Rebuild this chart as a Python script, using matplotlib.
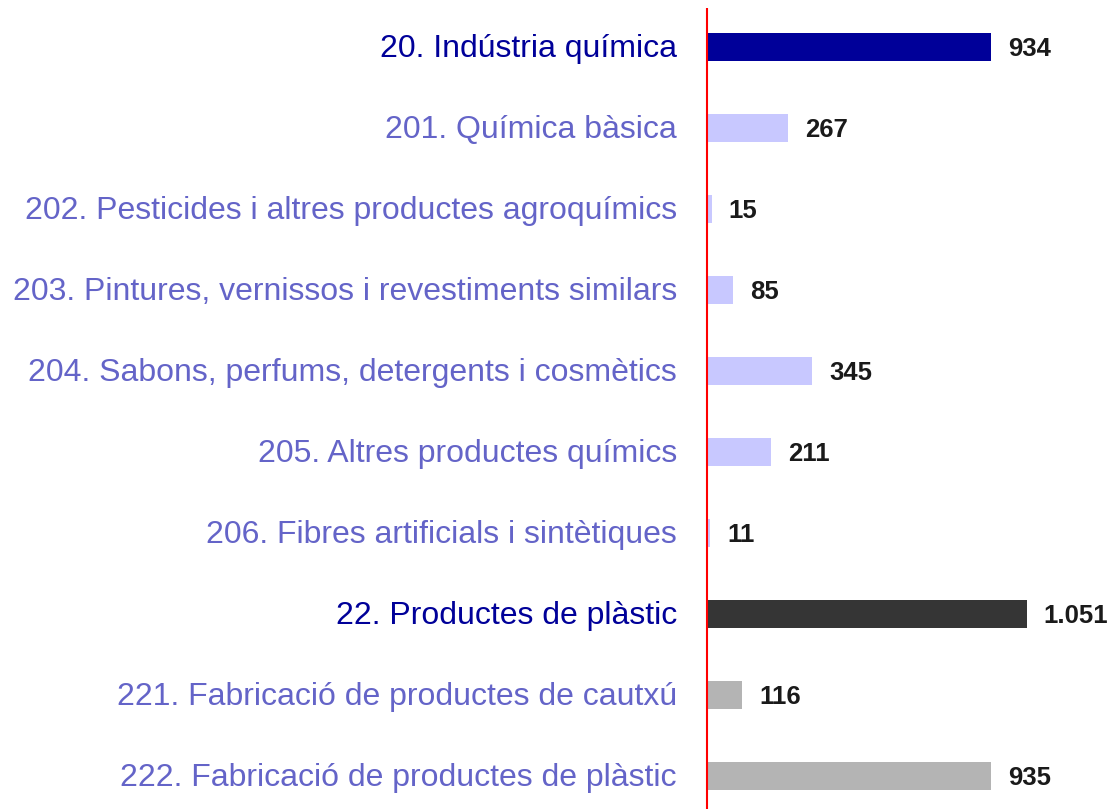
import matplotlib.pyplot as plt

# data
labels = ['20. Indústria química', '201. Química bàsica',
          '202. Pesticides i altres productes agroquímics',
          '203. Pintures, vernissos i revestiments similars',
          '204. Sabons, perfums, detergents i cosmètics',
          '205. Altres productes químics',
          '206. Fibres artificials i sintètiques',
          '22. Productes de plàstic',
          '221. Fabricació de productes de cautxú',
          '222. Fabricació de productes de plàstic']
values = [934, 267, 15, 85, 345, 211, 11, 1051, 116, 935]
value_text = ['934', '267', '15', '85', '345', '211', '11', '1.051', '116', '935']
bar_colors = ['#000099', '#c8c8ff', '#c8c8ff', '#c8c8ff', '#c8c8ff', '#c8c8ff',
              '#c8c8ff', '#353535', '#b4b4b4', '#b4b4b4']
label_colors = ['#000099', '#6464c8', '#6464c8', '#6464c8', '#6464c8', '#6464c8',
                '#6464c8', '#000099', '#6464c8', '#6464c8']

plt.rcParams['font.family'] = ['Liberation Sans', 'DejaVu Sans']

W, H = 1112, 809
scale = 0.304  # px per unit
fig = plt.figure(figsize=(W / 100, H / 100), dpi=100)
ax = fig.add_axes([697 / W, 0, 415 / W, 801 / H])

pos = list(range(len(values)))
ax.barh(pos, values, height=0.35, color=bar_colors, zorder=2)
ax.set_ylim(9.41, -0.48)
ax.set_xlim(-10 / scale, 405 / scale)
ax.axvline(0, color='#ff0000', lw=1.5, zorder=3)

for i in pos:
    ax.annotate(value_text[i], (values[i], i), xytext=(17, -2), textcoords='offset pixels',
                va='center', ha='left', fontsize=18.5, fontweight='bold', color='#1a1a1a')
    ax.annotate(labels[i], (0, i), xytext=(-30, -2), textcoords='offset pixels',
                va='center', ha='right', fontsize=23, color=label_colors[i],
                annotation_clip=False)

ax.set_xticks([])
ax.set_yticks([])
for s in ax.spines.values():
    s.set_visible(False)

fig.savefig('out.png', dpi=100)
